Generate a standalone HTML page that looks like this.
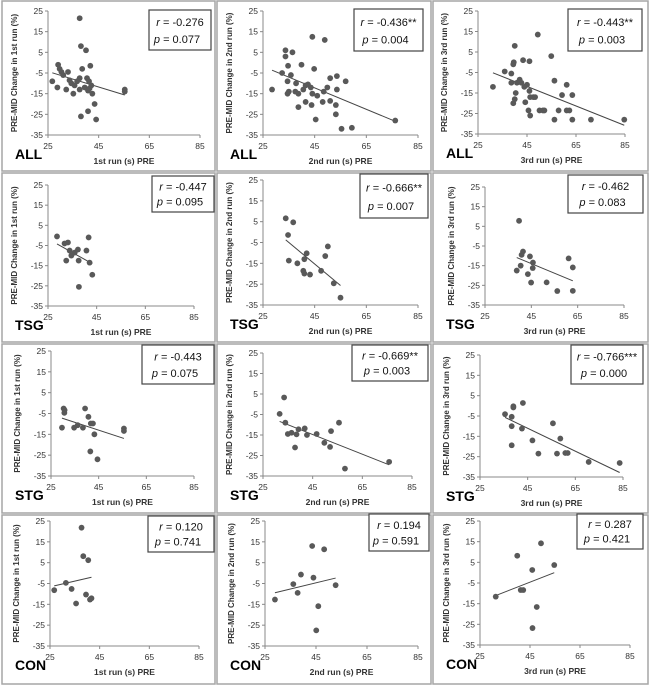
<!DOCTYPE html>
<html><head><meta charset="utf-8"><style>
html,body{margin:0;padding:0;background:#fff;}
svg{display:block;font-family:"Liberation Sans",sans-serif;}
</style></head><body>
<svg id="fig" width="650" height="685" viewBox="0 0 650 685"></svg>
<script>
// ---- data (x = run time PRE (s), y = PRE-MID change (%)) ----
const allRun1X=[37.5,38,40,26.7,29,28.7,29.6,30.3,32.9,31,33.5,34.2,32.2,35,37.5,38.5,37.5,35.5,36.5,39.5,40.4,41.2,41.7,42.1,40.8,42.5,38,40.8,43.4,44,55.3,55.3,41.4];
const allRun1Y=[21.5,8,6,-9,-1,-12,-3,-4.5,-4.5,-6,-8.5,-10,-13,-15,-7.5,-3,-13,-11,-9,-12,-7.5,-9,-1.5,-11,-13.5,-15,-26,-23.5,-20,-27.5,-13,-14,-12.5];
const allRun2X=[28.5,32.4,33.7,33.7,34.7,36.4,35.8,34.5,35,34.5,37.5,38.7,37.8,39.9,40.6,41.5,42.4,43.5,44.1,44.8,38.7,41.5,43.8,44.1,45.4,46,48.1,48.5,48.9,49.9,51,51,53.2,53.2,53.6,53.6,55.4,57,59.4,76.2];
const allRun2Y=[-13,-5,6,3,-1.5,5,-6,-9,-14,-15,-14,-15,-10,-1,-13,-11,-10.5,-12,12.5,-3,-21.5,-19,-20.5,-15,-27.5,-16,-19,-14,11,-12,-7.5,-18.5,-25,-20.5,-13,-6.5,-32,-9,-31.5,-28];
const allRun3X=[31.1,35.9,38.6,38.6,39.4,39.6,40,40,39.4,40.4,40.9,42,42.7,43.4,43.9,44.3,45,45.6,46,46,46.3,46.3,47.6,48.3,49.4,50.1,51.5,52.1,54.9,56.2,56.2,57.9,59.3,61.2,61.2,62.3,63.5,63.5,71.1,84.7];
const allRun3Y=[-12,-4.5,-5.5,-10,-1,0,8,-18,-20,-15,-10,-8.5,-10,1,-12,-19.5,-11,-23.5,0.5,-14,-17,-26,-17,-17,13.5,-23.5,-23.5,-23.5,3,-9,-28,-23.5,-16,-11,-23.5,-23.5,-16,-28,-28,-28];
const tsgRun1X=[28.7,31.8,33.2,32.5,33.9,34.6,36,37.3,37.6,40.8,41.7,42.1,43.2,37.7];
const tsgRun1Y=[-0.5,-4,-3.5,-12.5,-7.5,-10,-8.5,-7,-12.5,-7.5,-1,-13.5,-19.5,-25.5];
const tsgRun2X=[33.8,36.7,34.7,35,38.3,41,41.9,40.6,41,43.2,47.5,49.1,50.1,52.4,55];
const tsgRun2Y=[6.6,4.7,-1.4,-13.7,-15,-13,-10.2,-18.6,-19.9,-20.4,-18.6,-11.5,-6.9,-24.6,-31.5];
const tsgRun3X=[39.7,38.7,40.4,40.8,41.4,44.4,45.7,45.6,43.5,44.9,51.6,56.2,61.1,62.9,62.9];
const tsgRun3Y=[7.8,-17.5,-15,-9.5,-7.8,-10.3,-13.4,-16.2,-19.3,-23.6,-23.5,-27.9,-11.3,-15.9,-27.8];
const stgRun1X=[29.6,30.3,30.7,30.6,34.7,36.2,38.4,39.3,40.7,41.7,42.6,43.2,41.5,44.5,55.6,55.6];
const stgRun1Y=[-11.8,-2.6,-3.4,-4.7,-11.8,-10.6,-11.8,-2.6,-6.6,-9.8,-9.8,-15,-23.2,-27,-12.2,-13.4];
const stgRun2X=[31.7,33.5,34,35,36.5,38.5,37.9,39.3,41.8,42.7,46.6,49.7,52,52.4,55.6,58,75.8];
const stgRun2Y=[-4.7,3.3,-9,-14.5,-13.9,-14.7,-21.1,-12.2,-11.8,-15,-14.5,-18.8,-20.8,-13.1,-9,-31.4,-28.1];
const stgRun3X=[35.5,38.3,38.3,39,39,38.3,43,42.6,47,49.5,55.6,57.3,58.7,60.8,61.8,70.6,83.6];
const stgRun3Y=[-4.1,-5.4,-10,-0.8,-0.2,-19.4,1.4,-11.2,-17,-23.5,-8.6,-23.5,-16.1,-23.2,-23.2,-27.6,-28.1];
const conRun1X=[37.7,38.4,40.4,26.7,31.4,33.7,35.5,39.5,41.1,41.7];
const conRun1Y=[21.8,8.1,6.2,-8.2,-4.7,-7.6,-14.6,-10.3,-12.7,-12.1];
const conRun2X=[28.9,36.1,37.8,39.1,43.5,48.2,44,52.7,45.9,45.1];
const conRun2Y=[-12.7,-5.3,-9.5,-0.7,13,11.4,-2.2,-5.8,-15.9,-27.5];
const conRun3X=[31.3,39.9,41.3,42.3,45.9,49.4,54.7,47.7,46];
const conRun3Y=[-11.6,8.2,-8.4,-8.4,1.3,14.2,3.7,-16.6,-26.8];
const xTicks=[25,45,65,85];
const yTicks=[25,15,5,-5,-15,-25,-35];
const groups=["ALL","TSG","STG","CON"];
const runs=["1st","2nd","3rd"];
const rVals=["-0.276","-0.436**","-0.443**","-0.447","-0.666**","-0.462","-0.443","-0.669**","-0.766***","0.120","0.194","0.287"];
const pVals=["0.077","0.004","0.003","0.095","0.007","0.083","0.075","0.003","0.000","0.741","0.591","0.421"];
const seriesX=[allRun1X,allRun2X,allRun3X,tsgRun1X,tsgRun2X,tsgRun3X,stgRun1X,stgRun2X,stgRun3X,conRun1X,conRun2X,conRun3X];
const seriesY=[allRun1Y,allRun2Y,allRun3Y,tsgRun1Y,tsgRun2Y,tsgRun3Y,stgRun1Y,stgRun2Y,stgRun3Y,conRun1Y,conRun2Y,conRun3Y];

// ---- layout (pixel geometry per panel) ----
const geo=[
 {x0:48,x1:200,y0:11,y1:135,b:[149,10,62,40]},
 {x0:263,x1:418,y0:11,y1:135,b:[354,9,69,42]},
 {x0:478,x1:625,y0:11,y1:134,b:[568,9,74,42]},
 {x0:48,x1:194,y0:185,y1:306,b:[152,176,62,36]},
 {x0:263,x1:418,y0:180,y1:305,b:[360,174,68,44]},
 {x0:485,x1:624,y0:187,y1:305,b:[568,175,75,38]},
 {x0:51,x1:194,y0:351,y1:476,b:[142,345,72,39]},
 {x0:263,x1:412,y0:353,y1:476,b:[352,345,76,36]},
 {x0:480,x1:623,y0:355,y1:477,b:[571,345,72,39]},
 {x0:50,x1:199,y0:521,y1:646,b:[148,516,66,36]},
 {x0:265,x1:418,y0:521,y1:646,b:[369,514,60,37]},
 {x0:480,x1:630,y0:521,y1:645,b:[577,514,66,35]}
];
const cellX=[2,217,433], cellW=[213,214,215];
const cellY=[1,173,344,515], cellH=[170,169,169,169];

const NS="http://www.w3.org/2000/svg";
const svg=document.getElementById('fig');
function mk(tag,attrs,parent){const e=document.createElementNS(NS,tag);for(const k in attrs)e.setAttribute(k,attrs[k]);(parent||svg).appendChild(e);return e;}

for(let i=0;i<12;i++){
  const row=Math.floor(i/3), col=i%3, g=geo[i];
  const grp=mk('g',{});
  
  
  const frame=mk('rect',{x:cellX[col],y:cellY[row],width:cellW[col],height:cellH[row],fill:'none',stroke:'#a6a6a6','stroke-width':1.5},grp);
  
  
  const sx=v=>g.x0+(v-25)/60*(g.x1-g.x0);
  const sy=v=>g.y0+(25-v)/60*(g.y1-g.y0);
  // axes
  const ya=mk('line',{x1:g.x0,y1:g.y0,x2:g.x0,y2:g.y1,stroke:'#888','stroke-width':1},grp);
  
  
  const xa=mk('line',{x1:g.x0,y1:g.y1,x2:g.x1,y2:g.y1,stroke:'#888','stroke-width':1},grp);
  
  
  yTicks.forEach(t=>{
    mk('line',{x1:g.x0-3,y1:sy(t),x2:g.x0,y2:sy(t),stroke:'#888'},grp);
    const tl=mk('text',{x:g.x0-5,y:sy(t)+3,'text-anchor':'end','font-size':8.5,fill:'#333'},grp);
    tl.textContent=t;
    
    
  });
  xTicks.forEach(t=>{
    mk('line',{x1:sx(t),y1:g.y1,x2:sx(t),y2:g.y1+3,stroke:'#888'},grp);
    const tl=mk('text',{x:sx(t),y:g.y1+14,'text-anchor':'middle','font-size':8.5,fill:'#333'},grp);
    tl.textContent=t;
    
    
  });
  const xt=mk('text',{x:(g.x0+g.x1)/2,y:g.y1+29,'text-anchor':'middle','font-size':8.5,'font-weight':'bold',fill:'#333'},grp);
  xt.textContent=runs[col]+' run (s) PRE';
  
  
  const yc=(g.y0+g.y1)/2, yx=g.x0-31;
  const yt=mk('text',{x:yx,y:yc,'text-anchor':'middle','font-size':8,'font-weight':'bold',fill:'#333',transform:`rotate(-90 ${yx} ${yc})`},grp);
  yt.textContent='PRE-MID Change in '+runs[col]+' run (%)';
  
  
  const gl=mk('text',{x:cellX[col]+13,y:g.y1+24,'font-size':14,'font-weight':'bold',fill:'#000'},grp);
  gl.textContent=groups[row];
  
  
  // regression line
  const X=seriesX[i], Y=seriesY[i], n=X.length;
  let mx=0,my=0;for(let k=0;k<n;k++){mx+=X[k];my+=Y[k];}mx/=n;my/=n;
  let sxy=0,sxx=0;for(let k=0;k<n;k++){sxy+=(X[k]-mx)*(Y[k]-my);sxx+=(X[k]-mx)**2;}
  const slope=sxy/sxx, ic=my-slope*mx;
  const xmin=Math.min(...X), xmax=Math.max(...X);
  const tl=mk('line',{x1:sx(xmin),y1:sy(ic+slope*xmin),x2:sx(xmax),y2:sy(ic+slope*xmax),stroke:'#444','stroke-width':1},grp);
  
  
  for(let k=0;k<n;k++){
    const c=mk('circle',{cx:sx(X[k]),cy:sy(Y[k]),r:2.9,fill:'#595959'},grp);
    
    
  }
  // stats box
  const b=g.b;
  const box=mk('rect',{x:b[0],y:b[1],width:b[2],height:b[3],fill:'#fff',stroke:'#444','stroke-width':1.2},grp);
  
  
  const r=mk('text',{x:b[0]+b[2]/2,y:b[1]+b[3]*0.4,'text-anchor':'middle','font-size':11,fill:'#111'},grp);
  r.innerHTML='<tspan font-style="italic">r</tspan> = '+rVals[i];
  
  
  const p=mk('text',{x:b[0]+b[2]/2-3,y:b[1]+b[3]*0.82,'text-anchor':'middle','font-size':11,fill:'#111'},grp);
  p.innerHTML='<tspan font-style="italic">p</tspan> = '+pVals[i];
  
  
}
</script>
</body></html>
